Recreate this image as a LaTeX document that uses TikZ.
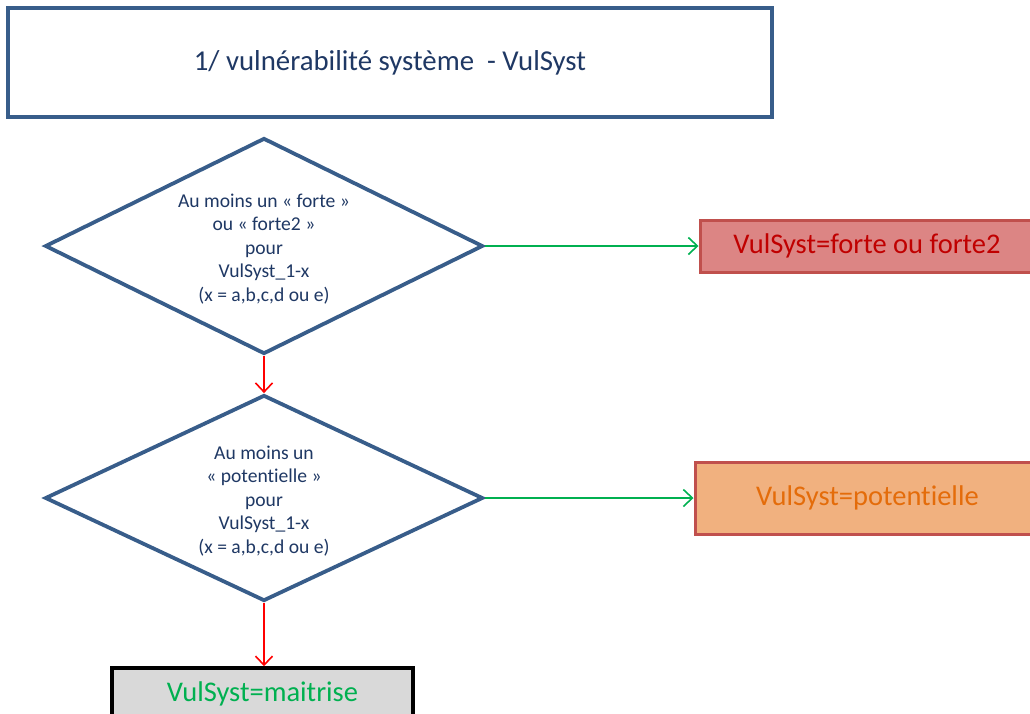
\documentclass[tikz,border=0pt]{standalone}
\usepackage{fontspec}
\setmainfont{Carlito}[Ligatures=NoCommon]
\usetikzlibrary{shapes.geometric,arrows.meta}

\definecolor{frameblue}{HTML}{385D8A}
\definecolor{inkblue}{HTML}{1F3864}
\definecolor{yesgreen}{HTML}{00B050}
\definecolor{nored}{HTML}{FF0000}
\definecolor{boxred}{HTML}{C0504D}
\definecolor{fillred}{HTML}{DC8584}
\definecolor{textred}{HTML}{C00000}
\definecolor{fillorange}{HTML}{F1B17F}
\definecolor{textorange}{HTML}{E46C0A}
\definecolor{fillgrey}{HTML}{D9D9D9}

\tikzset{
  titlebox/.style={draw=frameblue, line width=4pt, fill=white, text=inkblue,
    font=\fontsize{28.8}{32}\selectfont, inner sep=0pt},
  decision/.style={diamond, draw=frameblue, line width=3.8pt, fill=white,
    inner sep=0pt, shape aspect=2, minimum width=438pt, minimum height=216pt},
  decisiontext/.style={text=inkblue, align=center, inner sep=0pt,
    font=\fontsize{19.6}{23.5}\selectfont},
  result/.style={draw=boxred, line width=3pt, inner sep=0pt,
    font=\fontsize{28.5}{32}\selectfont},
  yesarrow/.style={draw=yesgreen, line width=1.6pt,
    -{Straight Barb[length=9pt,width=17pt,line width=1.6pt]}},
  noarrow/.style={draw=nored, line width=1.6pt,
    -{Straight Barb[length=9pt,width=17pt,line width=1.6pt]}},
}

\begin{document}
\begin{tikzpicture}[x=1pt,y=-1pt]
  \useasboundingbox (0,0) rectangle (1030,713);
  \clip (0,0) rectangle (1030,713);

  % heading
  \node[titlebox, minimum width=764pt, minimum height=109pt] (title) at (390,62.5)
    {1/ vulnérabilité système\ \ - VulSyst};

  % the two tests
  \node[decision] (q1) at (264,246) {};
  \node[decisiontext] (q1text) at (264,249)
    {Au moins un « forte »\\ ou « forte2 »\\ pour\\ VulSyst\_1-x\\ (x = a,b,c,d ou e)};
  \node[decision, minimum height=206pt] (q2) at (264,498) {};
  \node[decisiontext] (q2text) at (264,501)
    {Au moins un\\ « potentielle »\\ pour\\ VulSyst\_1-x\\ (x = a,b,c,d ou e)};

  % outcomes
  \node[result, fill=fillred, text=textred, minimum width=334pt, minimum height=52pt]
    (r1) at (867,246) {VulSyst=forte ou forte2};
  \node[result, fill=fillorange, text=textorange, minimum width=345pt, minimum height=72pt]
    (r2) at (867.5,498) {VulSyst=potentielle};
  \node[draw=black, line width=3.5pt, fill=fillgrey, text=yesgreen, inner sep=0pt,
    font=\fontsize{28.5}{32}\selectfont, minimum width=301pt, minimum height=52pt]
    (r3) at (262.5,694) {VulSyst=maitrise};

  % connectors
  \draw[yesarrow] (q1.east) -- (r1.west);
  \draw[yesarrow] (q2.east) -- (r2.west);
  \draw[noarrow] (q1.south) -- (q2.north);
  \draw[noarrow] (q2.south) -- (q2.south |- r3.north);
\end{tikzpicture}
\end{document}
